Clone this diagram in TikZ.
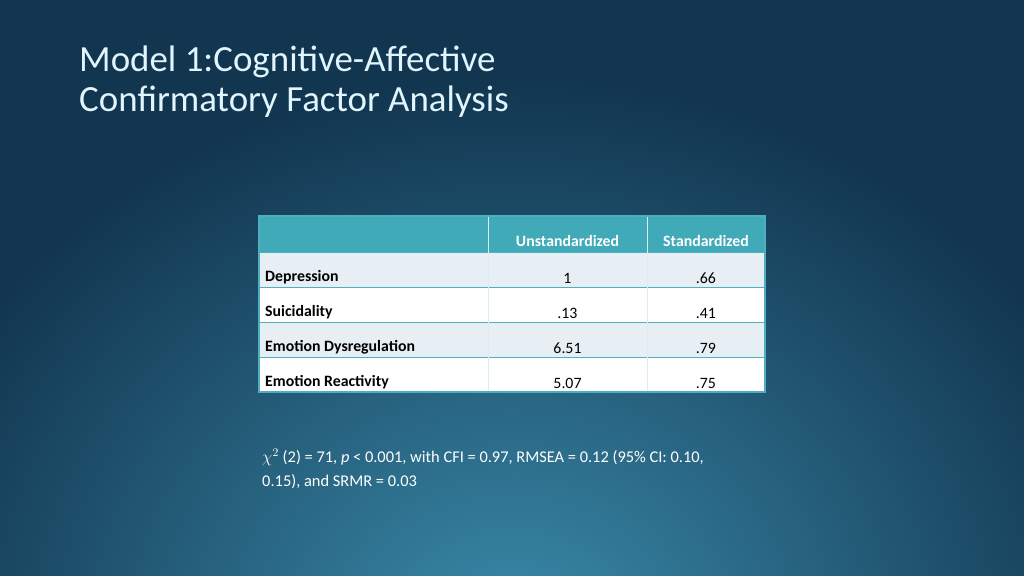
\documentclass[tikz,border=0pt]{standalone}
\usepackage{fontspec}
\setmainfont{Carlito}
\usepackage{tikz}
\usetikzlibrary{positioning}
\definecolor{bgdark}{HTML}{123650}
\definecolor{bgmid}{HTML}{1A5272}
\definecolor{bglight}{HTML}{3A8BAA}
\definecolor{headfill}{HTML}{41AAB9}
\definecolor{rowfill}{HTML}{E8EFF4}
\definecolor{gridline}{HTML}{4DAFC0}
\begin{document}
\begin{tikzpicture}[x=0.3mm, y=-0.3mm,
    cell/.style={inner sep=0pt, font=\fontsize{13.5}{15}\selectfont},
    headcell/.style={cell, text=white, font=\fontsize{13.5}{15}\selectfont\bfseries}
]
    % Background
    \useasboundingbox (0,0) rectangle (1024,576);
    \fill[bgdark] (0,0) rectangle (1024,576);
    \begin{scope}
        \clip (0,0) rectangle (1024,576);
        \shade[inner color=bglight, outer color=bgdark] (512,640) ellipse (640 and 560);
    \end{scope}

    % Title
    \node[anchor=north west, align=left, text=white!88!cyan, inner sep=0pt,
          font=\fontsize{31.5}{34}\selectfont] (title) at (79,46)
          {Model 1:Cognitive-Affective\\Confirmatory Factor Analysis};

    % Table rows
    \fill[headfill] (259,216) rectangle (765,252);
    \foreach \top/\col in {252/rowfill, 287/white, 322/rowfill, 357/white}
        \fill[\col] (259,\top) rectangle (765,\top+35);
    \foreach \yy in {252,287,322,357}
        \draw[gridline, line width=0.8pt] (259,\yy) -- (765,\yy);
    \foreach \xx in {488,647}
        \draw[white!80!headfill, line width=0.6pt] (\xx,216) -- (\xx,392);
    \draw[gridline, line width=1pt] (259,216) rectangle (765,392);

    % Header
    \node[headcell] (hunstd) at (567.5,241) {Unstandardized};
    \node[headcell] (hstd) at (706,241) {Standardized};

    % Body
    \foreach \name/\lab/\u/\s [count=\i] in {dep/Depression/1/.66, sui/Suicidality/.13/.41,
        emd/Emotion Dysregulation/6.51/.79, emr/Emotion Reactivity/5.07/.75} {
        \node[cell, anchor=west, font=\fontsize{13.5}{15}\selectfont\bfseries] (\name) at (265,242+35*\i) {\lab};
        \node[cell] (\name u) at (567.5,243+35*\i) {\u};
        \node[cell] (\name s) at (706,243+35*\i) {\s};
    }

    % Fit statistics
    \node[anchor=north west, align=left, text=white, inner sep=0pt,
          font=\fontsize{14}{20}\selectfont] (fit) at (262,449)
          {$\chi^2$ (2) = 71, \textit{p} < 0.001, with CFI = 0.97, RMSEA = 0.12 (95\% CI: 0.10,\\0.15), and SRMR = 0.03};
\end{tikzpicture}
\end{document}
